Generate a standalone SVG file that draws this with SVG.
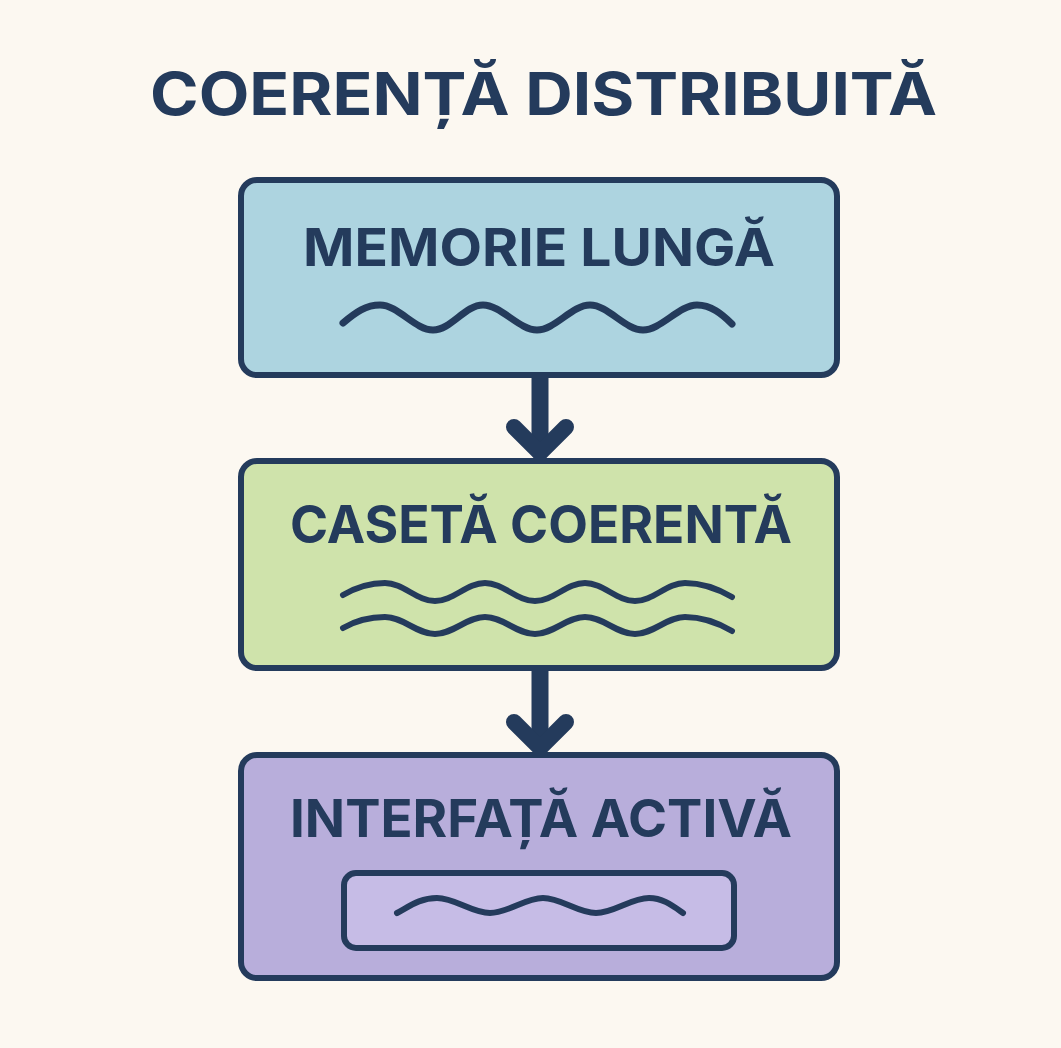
<svg xmlns="http://www.w3.org/2000/svg" width="1061" height="1048" viewBox="0 0 1061 1048">
  <style>
    .box { stroke: #243b5c; stroke-width: 6; }
    .lbl { font-family: Inter, "Liberation Sans", sans-serif; font-weight: 700; fill: #243b5c; text-anchor: middle; }
    .wave { fill: none; stroke: #243b5c; stroke-linecap: round; stroke-linejoin: round; }
    .conn { fill: none; stroke: #243b5c; stroke-linecap: round; }
  </style>
  <rect x="0" y="0" width="1061" height="1048" fill="#fcf8f1"/>

  <text id="title" class="lbl" x="543.5" y="115" font-size="59" textLength="787" lengthAdjust="spacingAndGlyphs">COERENȚĂ DISTRIBUITĂ</text>

  <g id="connectors">
    <line class="conn" x1="540" y1="374" x2="540" y2="452" stroke-width="17" stroke-linecap="butt"/>
    <polyline class="conn" points="514,427 540,453 566,427" stroke-width="16" stroke-linejoin="miter"/>
    <line class="conn" x1="540" y1="667" x2="540" y2="747" stroke-width="17" stroke-linecap="butt"/>
    <polyline class="conn" points="514,722 540,748 566,722" stroke-width="16" stroke-linejoin="miter"/>
  </g>

  <g id="node-memorie">
    <rect class="box" x="241" y="180" width="596" height="195" rx="16" fill="#add4e0"/>
    <text class="lbl" x="539" y="266" font-size="52" textLength="472" lengthAdjust="spacingAndGlyphs">MEMORIE LUNGĂ</text>
    <path class="wave" stroke-width="7" d="M343,323 C356,312 366,305 380,305 C398,305 415,330 433,330 C451,330 465,305 483,305 C501,305 519,330 537,330 C555,330 572,305 590,305 C608,305 625,330 643,330 C661,330 679,305 697,305 C711,305 722,314 732,324"/>
  </g>

  <g id="node-caseta">
    <rect class="box" x="241" y="461" width="596" height="207" rx="16" fill="#cfe3ab"/>
    <text class="lbl" x="541" y="543" font-size="52" textLength="502" lengthAdjust="spacingAndGlyphs">CASETĂ COERENTĂ</text>
    <path class="wave" stroke-width="6" d="M343,595 C355,588 368,583 385,583 C403,583 417,601 435,601 C453,601 467,583 485,583 C503,583 517,601 535,601 C553,601 567,583 585,583 C603,583 617,601 635,601 C653,601 667,583 685,583 C702,583 720,590 732,597"/>
    <path class="wave" stroke-width="6" d="M343,628 C355,621 368,617 385,617 C403,617 417,634 435,634 C453,634 467,617 485,617 C503,617 517,634 535,634 C553,634 567,617 585,617 C603,617 617,634 635,634 C653,634 667,617 685,617 C702,617 720,624 732,631"/>
  </g>

  <g id="node-interfata">
    <rect class="box" x="241" y="755" width="596" height="223" rx="16" fill="#b8aedb"/>
    <text class="lbl" x="541" y="837" font-size="52" textLength="502" lengthAdjust="spacingAndGlyphs">INTERFAȚĂ ACTIVĂ</text>
    <rect class="box" x="344" y="873" width="390" height="75" rx="12" fill="#c6bce6"/>
    <path class="wave" stroke-width="6" d="M397,913 C410,906 420,898 437,898 C455,898 472,913 490,913 C508,913 525,898 543,898 C561,898 578,913 596,913 C614,913 631,898 649,898 C663,898 673,906 683,913"/>
  </g>
</svg>
